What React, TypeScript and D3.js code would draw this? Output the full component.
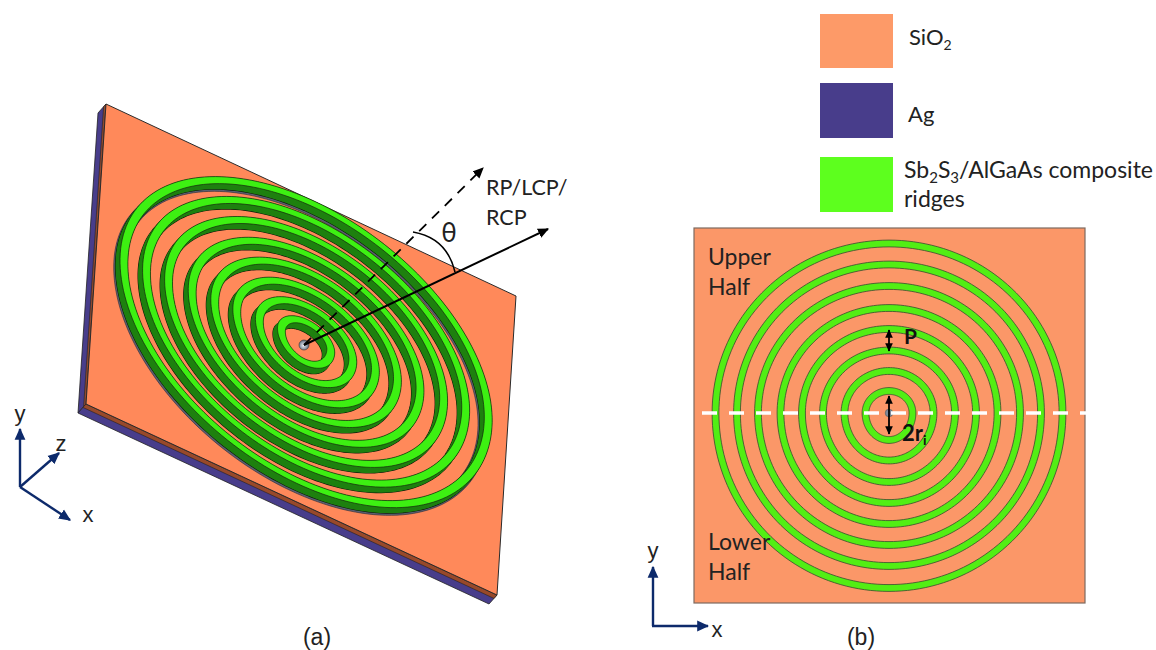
import React from "react";
import * as d3 from "d3";

// Ring geometry: half-axes in px about the ring centre
const ringRx = [23.5, 44.5, 66, 87, 108.5, 131, 152, 173.5];
const ringUpperRy = [22, 42, 62.5, 84, 105, 127, 148.5, 169.5];
const ringLowerRy = [27, 47.5, 69, 90, 111, 132, 153, 175];

const legendNames = ["SiO2", "Ag", "Sb2S3/AlGaAs composite ridges"];
const legendColors = ["#fd9a68", "#483d8b", "#5dff1e"];
const panelLabels = ["(a)", "(b)"];
const beamLabels = ["RP/LCP/", "RCP"];
const halfLabels = ["Upper", "Half", "Lower", "Half"];

// Panel (b) square and its projection in panel (a)
const square = { x0: 694, x1: 1085, y0: 228, y1: 603 };
const centre = { x: 889, y: 413 };
const plate = { a: [106, 104], b: [516, 296], c: [497, 595], d: [86, 404] };
const plateDepth: [number, number] = [-8, 9];
const ridgeBase: [number, number] = [1, -2];
const ridgeHeight: [number, number] = [4.5, -5.5];

const FONT = "Lato, 'Open Sans', sans-serif";
const ARIAL = "'Liberation Sans', Arial, sans-serif";
const NAVY = "#0d2a6b";

const u = d3.scaleLinear().domain([square.x0, square.x1]).range([0, 1]);
const v = d3.scaleLinear().domain([square.y0, square.y1]).range([0, 1]);

type Pt = [number, number];
const flat = (x: number, y: number): Pt => [x, y];
const project = (x: number, y: number): Pt => {
  const s = u(x), t = v(y);
  return [
    ridgeBase[0] + plate.a[0] + s * (plate.b[0] - plate.a[0]) + t * (plate.d[0] - plate.a[0]),
    ridgeBase[1] + plate.a[1] + s * (plate.b[1] - plate.a[1]) + t * (plate.d[1] - plate.a[1]),
  ];
};

const loop = d3.line<Pt>().curve(d3.curveLinearClosed);
const angles = d3.range(0, 360, 2).map((d) => (d * Math.PI) / 180);

function oval(i: number, grow: number, map: (x: number, y: number) => Pt, dx = 0, dy = 0) {
  const pts = angles.map((a) => {
    const ry = Math.sin(a) < 0 ? ringUpperRy[i] : ringLowerRy[i];
    const p = map(
      centre.x + (ringRx[i] + grow) * Math.cos(a),
      centre.y + (ry + grow) * Math.sin(a)
    );
    return [p[0] + dx, p[1] + dy] as Pt;
  });
  return loop(pts) as string;
}
const ring = (i: number, w: number, map: (x: number, y: number) => Pt, dx = 0, dy = 0) =>
  oval(i, w / 2, map, dx, dy) + oval(i, -w / 2, map, dx, dy);

const poly = (pts: number[][]) => pts.map((p) => p.join(",")).join(" ");
const off = (p: number[], k = 1) => [p[0] + plateDepth[0] * k, p[1] + plateDepth[1] * k];

const steps = d3.range(0, 1.01, 0.1);

export default function App() {
  const { a, b, c, d } = plate;
  return (
    <svg
      width={1156}
      height={650}
      viewBox="0 0 1156 650"
      style={{ position: "absolute", left: 0, top: 0, background: "#fff" }}
    >
      <defs>
        <marker id="ah" viewBox="0 0 10 10" refX="9" refY="5" markerWidth="11" markerHeight="11" markerUnits="userSpaceOnUse" orient="auto-start-reverse">
          <path d="M0,0.5 L10,5 L0,9.5 Z" fill="#000" />
        </marker>
        <marker id="ab" viewBox="0 0 10 10" refX="9" refY="5" markerWidth="8.5" markerHeight="8.5" markerUnits="userSpaceOnUse" orient="auto-start-reverse">
          <path d="M0,0.5 L10,5 L0,9.5 Z" fill="#000" />
        </marker>
        <marker id="an" viewBox="0 0 10 10" refX="9" refY="5" markerWidth="12" markerHeight="12" markerUnits="userSpaceOnUse" orient="auto">
          <path d="M0,0.5 L10,5 L0,9.5 Z" fill={NAVY} />
        </marker>
        <radialGradient id="pin" cx="0.45" cy="0.55" r="0.6">
          <stop offset="0" stopColor="#eef1f6" />
          <stop offset="1" stopColor="#4d5a70" />
        </radialGradient>
      </defs>

      {/* Panel (a): plate */}
      <polygon points={poly([a, d, off(d), off(a)])} fill="#483d8b" stroke="#222" strokeWidth={0.8} />
      <polygon points={poly([a, d, off(d, 0.3), off(a, 0.3)])} fill="#8f4a30" stroke="#222" strokeWidth={0.6} />
      <polygon points={poly([d, c, off(c), off(d)])} fill="#483d8b" stroke="#222" strokeWidth={0.8} />
      <polygon points={poly([d, c, off(c, 0.38), off(d, 0.38)])} fill="#98492a" stroke="#222" strokeWidth={0.6} />
      <polygon points={poly([a, b, c, d])} fill="#ff895a" stroke="#2b2b2b" strokeWidth={1} />

      {/* Panel (a): trench edge around the outermost ridge */}
      <path d={ring(7, 9, project, -1, 1.5)} fill="#5a6072" fillRule="evenodd" stroke="#2a2a35" strokeWidth={0.6} />

      {/* Panel (a): ridges */}
      {ringRx.map((_, i) => (
        <g key={i}>
          <path d={ring(i, 7.5, project)} fill="#1f8010" fillRule="evenodd" stroke="#10180c" strokeWidth={1.2} />
          {steps.map((k) => (
            <path
              key={k}
              d={ring(i, 7.5, project, ridgeHeight[0] * k, ridgeHeight[1] * k)}
              fill="#1f8010"
              fillRule="evenodd"
            />
          ))}
          <path
            d={ring(i, 7.5, project, ridgeHeight[0], ridgeHeight[1])}
            fill="#3df012"
            fillRule="evenodd"
            stroke="#16240f"
            strokeWidth={0.7}
          />
        </g>
      ))}

      <circle cx={304} cy={345} r={5} fill="url(#pin)" stroke="#333" strokeWidth={0.6} />

      {/* Panel (a): beam and tilt */}
      <line x1={304} y1={345} x2={483} y2={168} stroke="#000" strokeWidth={1.8} strokeDasharray="10 8" markerEnd="url(#ah)" />
      <line x1={304} y1={345} x2={548} y2={229} stroke="#000" strokeWidth={2} markerEnd="url(#ah)" />
      <path d="M413,232 Q447,238 455,272" fill="none" stroke="#000" strokeWidth={1.6} />
      <text x={449} y={242} textAnchor="middle" fontFamily={FONT} fontSize={26} fill="#222">θ</text>
      {beamLabels.map((t, i) => (
        <text key={t} x={486} y={195 + i * 30} fontFamily={FONT} fontSize={21.5} fill="#222">{t}</text>
      ))}

      {/* Panel (a): axes */}
      <g stroke={NAVY} strokeWidth={2.4} fill="none">
        <line x1={20} y1={487} x2={20} y2={429} markerEnd="url(#an)" />
        <line x1={20} y1={487} x2={59} y2={453} markerEnd="url(#an)" />
        <line x1={20} y1={487} x2={70} y2={520} markerEnd="url(#an)" />
      </g>
      <g fontFamily={ARIAL} fontSize={22} fill="#222" textAnchor="middle">
        <text x={20} y={421}>y</text>
        <text x={61} y={451}>z</text>
        <text x={88} y={522}>x</text>
      </g>

      {/* Panel (b) */}
      <rect x={square.x0} y={square.y0} width={square.x1 - square.x0} height={square.y1 - square.y0} fill="#fb9768" stroke="#7d6a60" strokeWidth={1.2} />
      {ringRx.map((_, i) => (
        <path key={i} d={ring(i, 6.8, flat)} fill="#52ee14" fillRule="evenodd" stroke="#3a4a30" strokeWidth={0.8} />
      ))}
      <circle cx={centre.x} cy={centre.y} r={3.8} fill="#7d8a9c" stroke="#555" strokeWidth={0.6} />
      <line x1={702} y1={413} x2={1086} y2={413} stroke="#fff" strokeWidth={3.4} strokeDasharray="15 12" />
      <line x1={889} y1={330} x2={889} y2={351} stroke="#000" strokeWidth={1.8} markerStart="url(#ab)" markerEnd="url(#ab)" />
      <line x1={889} y1={396} x2={889} y2={434} stroke="#000" strokeWidth={1.8} markerStart="url(#ab)" markerEnd="url(#ab)" />
      <text x={904} y={344} fontFamily={FONT} fontWeight={700} fontSize={21} fill="#111">P</text>
      <text x={902} y={441} fontFamily={FONT} fontWeight={700} fontSize={22} fill="#111">
        2r<tspan fontSize={14} dy={4}>i</tspan>
      </text>
      <g fontFamily={FONT} fontSize={23} fill="#222">
        <text x={708} y={265}>{halfLabels[0]}</text>
        <text x={708} y={295}>{halfLabels[1]}</text>
        <text x={708} y={550}>{halfLabels[2]}</text>
        <text x={708} y={580}>{halfLabels[3]}</text>
      </g>
      <g stroke={NAVY} strokeWidth={2.4} fill="none">
        <line x1={653} y1={626} x2={653} y2={567} markerEnd="url(#an)" />
        <line x1={652} y1={626} x2={708} y2={626} markerEnd="url(#an)" />
      </g>
      <g fontFamily={ARIAL} fontSize={22} fill="#222" textAnchor="middle">
        <text x={653} y={558}>y</text>
        <text x={717} y={637}>x</text>
      </g>
      <g fontFamily={ARIAL} fontSize={23} fill="#222" textAnchor="middle">
        <text x={317} y={645}>{panelLabels[0]}</text>
        <text x={861} y={645}>{panelLabels[1]}</text>
      </g>

      {/* Legend */}
      <rect x={820} y={14} width={73} height={54} fill={legendColors[0]} />
      <rect x={820} y={83} width={73} height={55} fill={legendColors[1]} />
      <rect x={820} y={157} width={73} height={55} fill={legendColors[2]} />
      <g fontFamily={FONT} fill="#222">
        <text x={909} y={45} fontSize={22}>SiO<tspan fontSize={14} dy={5}>2</tspan></text>
        <text x={908} y={122} fontSize={22}>{legendNames[1]}</text>
        <text x={904} y={178} fontSize={23}>
          Sb<tspan fontSize={15} dy={5}>2</tspan>
          <tspan dy={-5}>S</tspan><tspan fontSize={15} dy={5}>3</tspan>
          <tspan dy={-5}>/AlGaAs composite</tspan>
        </text>
        <text x={904} y={207} fontSize={23}>ridges</text>
      </g>
    </svg>
  );
}
